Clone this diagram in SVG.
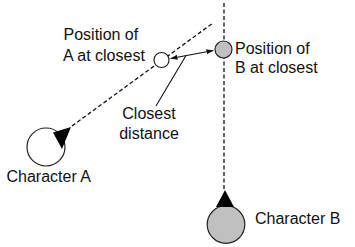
<svg xmlns="http://www.w3.org/2000/svg" width="355" height="247" viewBox="0 0 355 247">
  <style>
    .lbl { font-family: "Liberation Sans", Arial, Helvetica, sans-serif; font-size: 16px; fill: #111; }
    .path { stroke: #111; stroke-width: 1.3; stroke-dasharray: 4 2.5; fill: none; }
    .thin { stroke: #111; stroke-width: 1.1; fill: none; }
    .ring { stroke: #222; stroke-width: 1.2; }
  </style>
  <defs>
    <marker id="tip" viewBox="0 0 10 10" refX="10" refY="5" markerWidth="7" markerHeight="7" orient="auto-start-reverse" markerUnits="userSpaceOnUse">
      <path d="M0,1.5 L10,5 L0,8.5 Z" fill="#111"/>
    </marker>
  </defs>

  <!-- travel paths and measurement lines -->
  <g id="connectors">
    <line class="path" x1="72" y1="126" x2="213" y2="23"/>
    <line class="path" x1="224" y1="3" x2="224" y2="190"/>
    <line class="thin" x1="170.5" y1="58.5" x2="213.5" y2="50.5" marker-start="url(#tip)" marker-end="url(#tip)"/>
    <line class="thin" x1="156" y1="106" x2="186" y2="55.5"/>
  </g>

  <g id="character-a">
    <circle class="ring" cx="46" cy="147" r="19" fill="#fff"/>
    <polygon points="71,127 53,132.5 62,149" fill="#000"/>
    <text class="lbl" x="6.5" y="182">Character A</text>
  </g>

  <g id="character-b">
    <circle class="ring" cx="226" cy="224.5" r="18.8" fill="#c0c0c0"/>
    <polygon points="225,190 216,207 234,207" fill="#000"/>
    <text class="lbl" x="255" y="223.5">Character B</text>
  </g>

  <g id="a-closest">
    <circle class="ring" cx="161.5" cy="60" r="7.5" fill="#fff"/>
    <text class="lbl" x="63.5" y="40">Position of</text>
    <text class="lbl" x="63" y="60.5">A at closest</text>
  </g>

  <g id="b-closest">
    <circle class="ring" cx="223.5" cy="49.5" r="8.5" fill="#c0c0c0"/>
    <text class="lbl" x="235" y="54">Position of</text>
    <text class="lbl" x="235" y="73">B at closest</text>
  </g>

  <g id="closest-distance">
    <text class="lbl" x="149" y="119" text-anchor="middle">Closest</text>
    <text class="lbl" x="149" y="138.5" text-anchor="middle">distance</text>
  </g>
</svg>
